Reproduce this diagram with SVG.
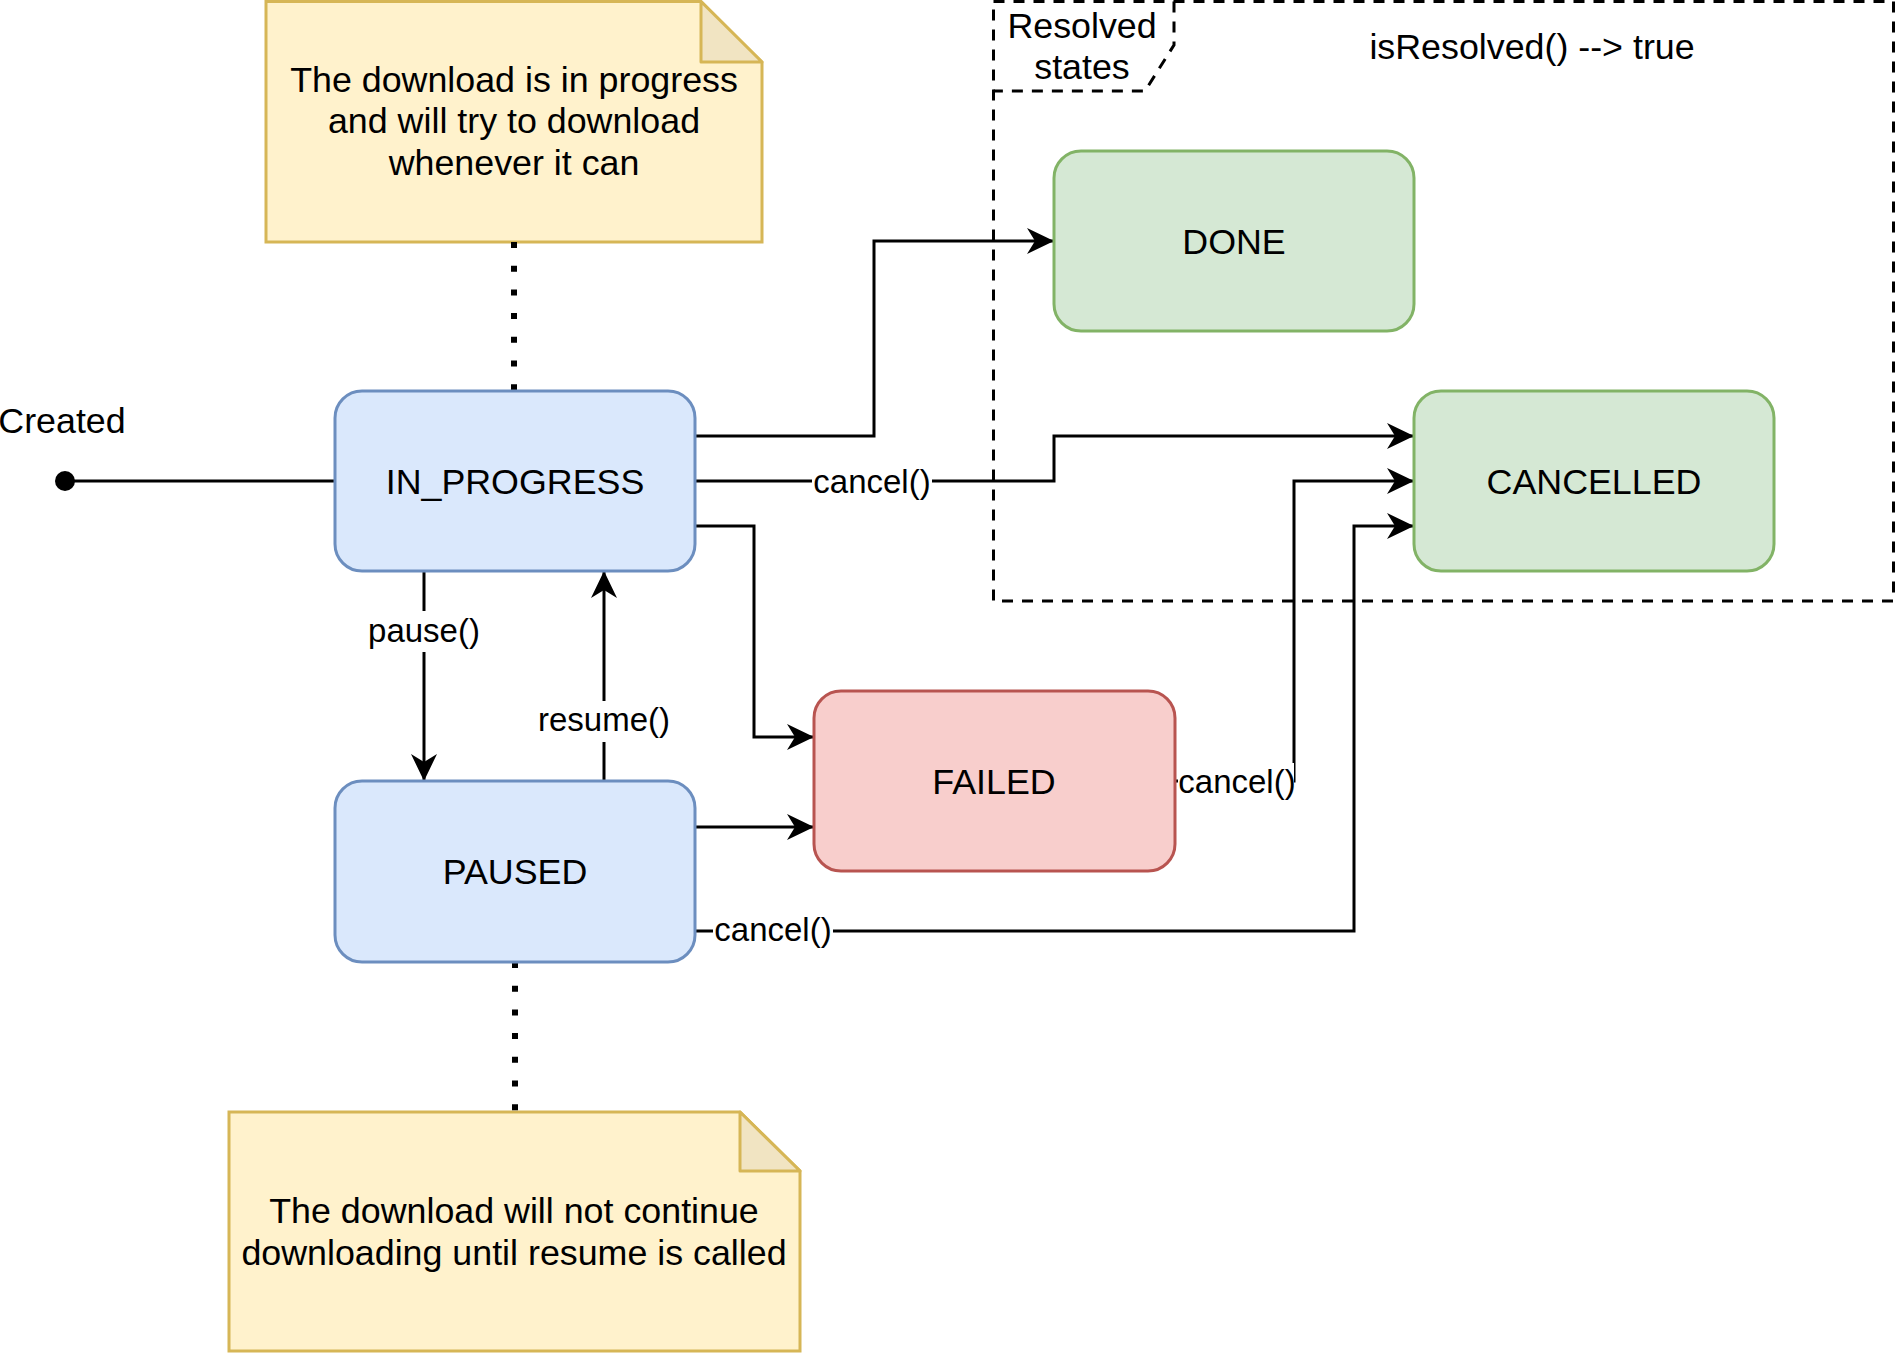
<svg xmlns="http://www.w3.org/2000/svg" width="1896" height="1353" viewBox="0 0 1896 1353">
<defs>
<style>
text{font-family:"Liberation Sans",Arial,sans-serif;fill:#000}
.t{font-size:35.8px;text-anchor:middle}
.l{font-size:33px;text-anchor:middle}
.blue{fill:#dae8fc;stroke:#6c8ebf;stroke-width:3}
.green{fill:#d5e8d4;stroke:#82b366;stroke-width:3}
.red{fill:#f8cecc;stroke:#b85450;stroke-width:3}
.note{fill:#fff2cc;stroke:#d6b656;stroke-width:3}
.fold{fill:#f1e4c2;stroke:#d6b656;stroke-width:3;stroke-linejoin:round}
.e{fill:none;stroke:#000;stroke-width:3}
.a{marker-end:url(#arr)}
.dot{fill:none;stroke:#000;stroke-width:6;stroke-dasharray:6 17.7}
.frame{fill:none;stroke:#000;stroke-width:3;stroke-dasharray:11 9}
.bg{fill:#fff}
</style>
<marker id="arr" markerUnits="userSpaceOnUse" markerWidth="30" markerHeight="30" viewBox="-28 -14 30 28" refX="0" refY="0" orient="auto">
<path d="M0,0 L-27,-13 L-19,0 L-27,13 Z" fill="#000"/>
</marker>
</defs>
<g id="resolved-frame">
<rect class="frame" x="993.5" y="1.5" width="900" height="599.5"/>
<path class="frame" d="M1174,1.5 L1174,45 L1145,91 L993.5,91"/>
<text class="t" x="1082" y="38">Resolved</text>
<text class="t" x="1082" y="79">states</text>
<text class="t" x="1532" y="59">isResolved() --&gt; true</text>
</g>
<g id="note-progress">
<path class="note" d="M266,1.5 L701,1.5 L762,62 L762,242 L266,242 Z"/>
<path class="fold" d="M701,1.5 L701,62 L762,62 Z"/>
<text class="t" x="514" y="92">The download is in progress</text>
<text class="t" x="514" y="133">and will try to download</text>
<text class="t" x="514" y="175">whenever it can</text>
</g>
<g id="note-paused">
<path class="note" d="M229,1112 L740,1112 L800,1171 L800,1351 L229,1351 Z"/>
<path class="fold" d="M740,1112 L740,1171 L800,1171 Z"/>
<text class="t" x="514" y="1223">The download will not continue</text>
<text class="t" x="514" y="1265">downloading until resume is called</text>
</g>
<g id="connectors">
<path class="dot" d="M514,242 L514,391"/>
<path class="dot" d="M515,962 L515,1112"/>
<circle cx="65" cy="481" r="10" fill="#000"/>
<path class="e" d="M65,481 L335,481"/>
<path class="e a" d="M695,436 L874,436 L874,241 L1054,241"/>
<path class="e a" d="M695,481 L1054,481 L1054,436 L1414,436"/>
<path class="e a" d="M695,526 L754,526 L754,737 L814,737"/>
<path class="e a" d="M695,827 L814,827"/>
<path class="e a" d="M1175,781 L1294,781 L1294,481 L1414,481"/>
<path class="e a" d="M695,931 L1354,931 L1354,526 L1414,526"/>
<path class="e a" d="M424,571 L424,781"/>
<path class="e a" d="M604,781 L604,571"/>
<rect class="bg" x="812" y="463" width="120" height="37"/>
<text class="l" x="872" y="493">cancel()</text>
<rect class="bg" x="1178" y="763" width="116" height="37"/>
<text class="l" x="1237" y="793">cancel()</text>
<rect class="bg" x="713" y="913" width="120" height="37"/>
<text class="l" x="773" y="941">cancel()</text>
<rect class="bg" x="366" y="611" width="116" height="41"/>
<text class="l" x="424" y="642">pause()</text>
<rect class="bg" x="539" y="701" width="131" height="41"/>
<text class="l" x="604" y="731">resume()</text>
<text class="t" x="62" y="433">Created</text>
</g>
<g id="in-progress">
<rect class="blue" x="335" y="391" width="360" height="180" rx="27"/>
<text class="t" x="515" y="494">IN_PROGRESS</text>
</g>
<g id="paused">
<rect class="blue" x="335" y="781" width="360" height="181" rx="27"/>
<text class="t" x="515" y="884">PAUSED</text>
</g>
<g id="failed">
<rect class="red" x="814" y="691" width="361" height="180" rx="27"/>
<text class="t" x="994" y="794">FAILED</text>
</g>
<g id="done">
<rect class="green" x="1054" y="151" width="360" height="180" rx="27"/>
<text class="t" x="1234" y="254">DONE</text>
</g>
<g id="cancelled">
<rect class="green" x="1414" y="391" width="360" height="180" rx="27"/>
<text class="t" x="1594" y="494">CANCELLED</text>
</g>
</svg>
